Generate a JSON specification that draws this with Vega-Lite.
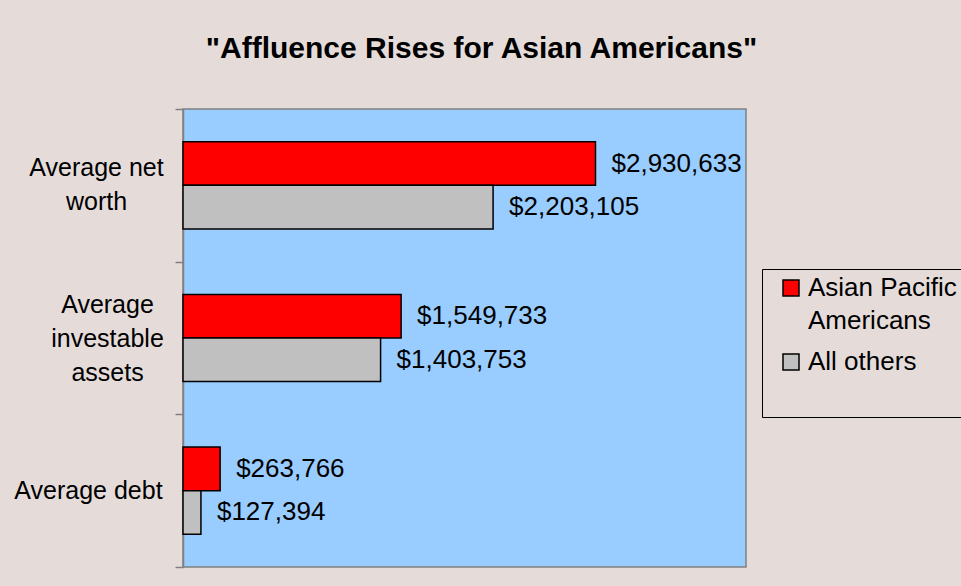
{
  "$schema": "https://vega.github.io/schema/vega-lite/v6.json",
  "width": 563,
  "height": 458,
  "autosize": {"type": "none"},
  "padding": {"left": 183, "top": 109, "right": 215, "bottom": 19},
  "background": "#E5DCDA",
  "title": {
    "text": "\"Affluence Rises for Asian Americans\"",
    "font": "Liberation Sans",
    "fontSize": 30,
    "fontWeight": "bold",
    "color": "black",
    "anchor": "middle",
    "dx": 17,
    "offset": 33
  },
  "config": {
    "view": {"fill": "#99CCFF", "stroke": "#808080", "strokeWidth": 1.5},
    "font": "Liberation Sans"
  },
  "data": {
    "values": [
      {"category": "Average net worth", "group": "Asian Pacific Americans", "value": 2930633},
      {"category": "Average net worth", "group": "All others", "value": 2203105},
      {"category": "Average investable assets", "group": "Asian Pacific Americans", "value": 1549733},
      {"category": "Average investable assets", "group": "All others", "value": 1403753},
      {"category": "Average debt", "group": "Asian Pacific Americans", "value": 263766},
      {"category": "Average debt", "group": "All others", "value": 127394}
    ]
  },
  "encoding": {
    "y": {
      "field": "category",
      "type": "nominal",
      "sort": ["Average net worth", "Average investable assets", "Average debt"],
      "scale": {"paddingInner": 0, "paddingOuter": 0},
      "axis": {
        "title": null,
        "domainColor": "#808080",
        "domainWidth": 1.5,
        "tickColor": "#808080",
        "tickWidth": 1.5,
        "tickSize": 8,
        "tickBand": "extent",
        "labelFont": "Liberation Sans",
        "labelFontSize": 25,
        "labelColor": "black",
        "labelAlign": "center",
        "labelPadding": {
          "condition": [
            {"test": "datum.value == 'Average debt'", "value": 87},
            {"test": "datum.value == 'Average investable assets'", "value": 68}
          ],
          "value": 79
        },
        "labelOffset": {
          "condition": [
            {"test": "datum.value == 'Average net worth'", "value": -18},
            {"test": "datum.value == 'Average investable assets'", "value": -34}
          ],
          "value": 0
        },
        "labelLineHeight": 34,
        "labelLimit": 300,
        "labelExpr": "datum.label == 'Average net worth' ? ['Average net', 'worth'] : datum.label == 'Average investable assets' ? ['Average', 'investable', 'assets'] : datum.label"
      }
    },
    "yOffset": {
      "field": "group",
      "type": "nominal",
      "sort": ["Asian Pacific Americans", "All others"],
      "scale": {"paddingInner": 0, "paddingOuter": 0.75}
    },
    "x": {
      "field": "value",
      "type": "quantitative",
      "scale": {"domain": [0, 4000000], "nice": false},
      "axis": null
    }
  },
  "layer": [
    {
      "mark": {"type": "bar", "stroke": "black", "strokeWidth": 1.5},
      "encoding": {
        "color": {
          "field": "group",
          "type": "nominal",
          "sort": ["Asian Pacific Americans", "All others"],
          "scale": {"domain": ["Asian Pacific Americans", "All others"], "range": ["#FF0000", "#C0C0C0"]},
          "legend": {
            "orient": "none",
            "legendX": 579,
            "legendY": 160,
            "title": "\u00a0\u00a0\u00a0\u00a0\u00a0\u00a0\u00a0\u00a0\u00a0\u00a0\u00a0\u00a0\u00a0\u00a0\u00a0\u00a0\u00a0\u00a0\u00a0\u00a0\u00a0\u00a0\u00a0\u00a0\u00a0\u00a0\u00a0\u00a0\u00a0\u00a0\u00a0\u00a0\u00a0\u00a0",
            "titleOrient": "bottom",
            "titleFontSize": 24,
            "titleLimit": 1000,
            "titlePadding": 12,
            "padding": 6,
            "strokeColor": "black",
            "fillColor": "#E5DCDA",
            "symbolType": "square",
            "symbolSize": 256,
            "symbolStrokeColor": "black",
            "symbolStrokeWidth": 1.5,
            "symbolOffset": 10,
            "labelFont": "Liberation Sans",
            "labelFontSize": 26,
            "labelColor": "black",
            "labelOffset": 4,
            "labelLimit": 300,
            "rowPadding": 15,
            "labelExpr": "datum.label == 'Asian Pacific Americans' ? ['Asian Pacific', 'Americans'] : datum.label",
            "encode": {
              "labels": {"update": {"lineHeight": {"value": 33}}}
            }
          }
        }
      }
    },
    {
      "mark": {"type": "text", "align": "left", "baseline": "middle", "dx": 16, "fontSize": 26, "font": "Liberation Sans", "color": "black"},
      "encoding": {
        "text": {"field": "value", "type": "quantitative", "format": "$,d"}
      }
    }
  ]
}
